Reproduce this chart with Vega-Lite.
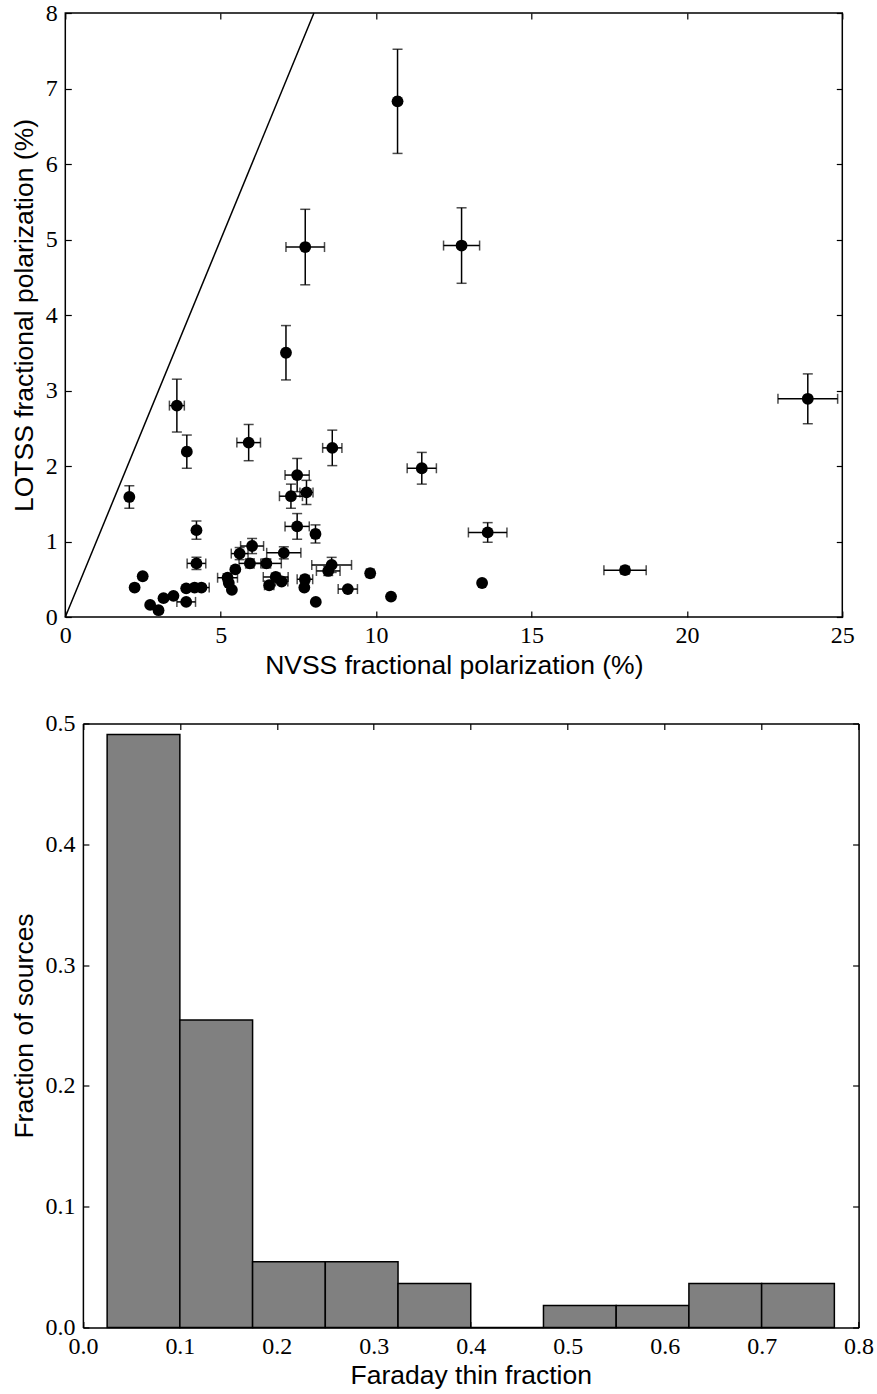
{
  "$schema": "https://vega.github.io/schema/vega-lite/v6.json",
  "padding": {"top": 0, "left": 10.3, "right": 0, "bottom": 0},
  "background": "white",
  "spacing": 31.5,
  "config": {
    "view": {"stroke": "black", "strokeWidth": 1.5},
    "axis": {
      "domain": false, "grid": false,
      "tickSize": -6, "tickColor": "black", "tickWidth": 1.2,
      "labelFont": "Liberation Serif", "labelFontSize": 24, "labelColor": "black", "labelFlush": false,
      "titleFont": "Liberation Sans", "titleFontSize": 26.5, "titleFontWeight": "normal", "titleColor": "black"
    },
    "axisX": {"labelPadding": 12.8, "titleBaseline": "alphabetic", "titleY": 56.5},
    "axisY": {"labelPadding": 14, "titleBaseline": "alphabetic"}
  },
  "vconcat": [
    {
      "width": 777, "height": 604,
      "data": {"values": [
        {"x": 10.69, "y": 6.83, "xe": 0.08, "ye": 0.69},
        {"x": 7.72, "y": 4.90, "xe": 0.62, "ye": 0.50},
        {"x": 12.75, "y": 4.92, "xe": 0.58, "ye": 0.50},
        {"x": 7.10, "y": 3.50, "xe": 0.08, "ye": 0.36},
        {"x": 3.59, "y": 2.80, "xe": 0.24, "ye": 0.35},
        {"x": 3.91, "y": 2.19, "xe": 0.08, "ye": 0.22},
        {"x": 5.90, "y": 2.31, "xe": 0.38, "ye": 0.24},
        {"x": 8.59, "y": 2.24, "xe": 0.31, "ye": 0.235},
        {"x": 23.89, "y": 2.89, "xe": 0.96, "ye": 0.33},
        {"x": 2.06, "y": 1.59, "xe": 0.05, "ye": 0.15},
        {"x": 11.47, "y": 1.97, "xe": 0.47, "ye": 0.21},
        {"x": 7.46, "y": 1.88, "xe": 0.39, "ye": 0.22},
        {"x": 7.26, "y": 1.60, "xe": 0.37, "ye": 0.16},
        {"x": 7.76, "y": 1.65, "xe": 0.21, "ye": 0.16},
        {"x": 4.22, "y": 1.15, "xe": 0.06, "ye": 0.12},
        {"x": 7.46, "y": 1.20, "xe": 0.39, "ye": 0.17},
        {"x": 8.05, "y": 1.10, "xe": 0.10, "ye": 0.12},
        {"x": 13.59, "y": 1.12, "xe": 0.62, "ye": 0.13},
        {"x": 18.01, "y": 0.62, "xe": 0.68, "ye": 0.05},
        {"x": 13.41, "y": 0.45, "xe": 0, "ye": 0},
        {"x": 10.48, "y": 0.27, "xe": 0, "ye": 0},
        {"x": 9.81, "y": 0.58, "xe": 0.12, "ye": 0},
        {"x": 9.09, "y": 0.37, "xe": 0.31, "ye": 0},
        {"x": 8.57, "y": 0.69, "xe": 0.64, "ye": 0.10},
        {"x": 8.46, "y": 0.61, "xe": 0.38, "ye": 0.06},
        {"x": 8.06, "y": 0.20, "xe": 0, "ye": 0},
        {"x": 7.71, "y": 0.50, "xe": 0.25, "ye": 0.05},
        {"x": 7.69, "y": 0.39, "xe": 0, "ye": 0},
        {"x": 6.96, "y": 0.47, "xe": 0.2, "ye": 0},
        {"x": 6.77, "y": 0.53, "xe": 0.4, "ye": 0.05},
        {"x": 6.56, "y": 0.42, "xe": 0.15, "ye": 0},
        {"x": 7.03, "y": 0.85, "xe": 0.55, "ye": 0.08},
        {"x": 6.47, "y": 0.71, "xe": 0.48, "ye": 0.06},
        {"x": 5.94, "y": 0.71, "xe": 0.35, "ye": 0.06},
        {"x": 6.01, "y": 0.94, "xe": 0.37, "ye": 0.10},
        {"x": 5.61, "y": 0.84, "xe": 0.27, "ye": 0.08},
        {"x": 5.47, "y": 0.63, "xe": 0, "ye": 0},
        {"x": 5.22, "y": 0.52, "xe": 0.32, "ye": 0.05},
        {"x": 5.26, "y": 0.45, "xe": 0, "ye": 0},
        {"x": 5.36, "y": 0.36, "xe": 0, "ye": 0},
        {"x": 4.22, "y": 0.71, "xe": 0.3, "ye": 0.08},
        {"x": 4.38, "y": 0.39, "xe": 0.25, "ye": 0},
        {"x": 4.16, "y": 0.39, "xe": 0, "ye": 0},
        {"x": 3.89, "y": 0.38, "xe": 0, "ye": 0},
        {"x": 3.89, "y": 0.20, "xe": 0.3, "ye": 0},
        {"x": 3.48, "y": 0.28, "xe": 0, "ye": 0},
        {"x": 3.16, "y": 0.25, "xe": 0, "ye": 0},
        {"x": 3.00, "y": 0.09, "xe": 0, "ye": 0},
        {"x": 2.73, "y": 0.16, "xe": 0, "ye": 0},
        {"x": 2.49, "y": 0.54, "xe": 0, "ye": 0},
        {"x": 2.23, "y": 0.39, "xe": 0, "ye": 0}
      ]},
      "layer": [
        {
          "data": {"values": [{"x": 0, "y": 0}, {"x": 8, "y": 8}]},
          "mark": {"type": "line", "color": "black", "strokeWidth": 1.5},
          "encoding": {
            "x": {"field": "x", "type": "quantitative", "scale": {"domain": [0, 25], "nice": false}, "axis": null},
            "y": {"field": "y", "type": "quantitative", "scale": {"domain": [0, 8], "nice": false}, "axis": null}
          }
        },
        {
          "transform": [{"filter": "datum.ye > 0"}],
          "mark": {"type": "errorbar", "color": "black", "ticks": {"size": 10, "thickness": 1.5}, "rule": {"strokeWidth": 1.5}},
          "encoding": {
            "x": {"field": "x", "type": "quantitative", "axis": null},
            "y": {"field": "y", "type": "quantitative", "axis": null},
            "yError": {"field": "ye"}
          }
        },
        {
          "transform": [{"filter": "datum.xe > 0"}],
          "mark": {"type": "errorbar", "color": "black", "ticks": {"size": 10, "thickness": 1.5}, "rule": {"strokeWidth": 1.5}},
          "encoding": {
            "x": {"field": "x", "type": "quantitative", "axis": null},
            "y": {"field": "y", "type": "quantitative", "axis": null},
            "xError": {"field": "xe"}
          }
        },
        {
          "mark": {"type": "point", "filled": true, "color": "black", "size": 140, "opacity": 1},
          "encoding": {
            "x": {"field": "x", "type": "quantitative", "title": "NVSS fractional polarization (%)",
                  "axis": {"values": [0, 5, 10, 15, 20, 25], "format": "d"}},
            "y": {"field": "y", "type": "quantitative", "title": "LOTSS fractional polarization (%)",
                  "axis": {"values": [0, 1, 2, 3, 4, 5, 6, 7, 8], "format": "d", "titleX": -32.4}}
          }
        },
        {
          "mark": {"type": "point", "opacity": 0},
          "encoding": {
            "x": {"field": "x", "type": "quantitative",
                  "axis": {"orient": "top", "labels": false, "title": null, "values": [0, 5, 10, 15, 20, 25]}},
            "y": {"field": "y", "type": "quantitative",
                  "axis": {"orient": "right", "labels": false, "title": null, "values": [0, 1, 2, 3, 4, 5, 6, 7, 8]}}
          }
        }
      ],
      "resolve": {"axis": {"x": "independent", "y": "independent"}}
    },
    {
      "width": 793.3, "height": 604,
      "view": {"stroke": null},
      "data": {"values": [
        {"bin_start": 0.025, "bin_end": 0.1, "frac": 0.4909},
        {"bin_start": 0.1, "bin_end": 0.175, "frac": 0.2545},
        {"bin_start": 0.175, "bin_end": 0.25, "frac": 0.0545},
        {"bin_start": 0.25, "bin_end": 0.325, "frac": 0.0545},
        {"bin_start": 0.325, "bin_end": 0.4, "frac": 0.0364},
        {"bin_start": 0.4, "bin_end": 0.475, "frac": 0},
        {"bin_start": 0.475, "bin_end": 0.55, "frac": 0.0182},
        {"bin_start": 0.55, "bin_end": 0.625, "frac": 0.0182},
        {"bin_start": 0.625, "bin_end": 0.7, "frac": 0.0364},
        {"bin_start": 0.7, "bin_end": 0.775, "frac": 0.0364}
      ]},
      "layer": [
        {
          "mark": {"type": "bar", "color": "#808080", "stroke": "black", "strokeWidth": 1.5},
          "encoding": {
            "x": {"field": "bin_start", "type": "quantitative", "title": "Faraday thin fraction",
                  "scale": {"domain": [0, 0.8], "nice": false, "range": [17.6, 793.3]},
                  "axis": {"values": [0, 0.1, 0.2, 0.3, 0.4, 0.5, 0.6, 0.7, 0.8], "format": ".1f",
                           "domain": true, "domainColor": "black", "domainWidth": 1.5}},
            "x2": {"field": "bin_end"},
            "y": {"field": "frac", "type": "quantitative", "title": "Fraction of sources",
                  "scale": {"domain": [0, 0.5], "nice": false},
                  "axis": {"values": [0, 0.1, 0.2, 0.3, 0.4, 0.5], "format": ".1f", "titleX": -50, "offset": -17.6,
                           "domain": true, "domainColor": "black", "domainWidth": 1.5}},
            "y2": {"datum": 0}
          }
        },
        {
          "mark": {"type": "point", "opacity": 0},
          "encoding": {
            "x": {"field": "bin_start", "type": "quantitative",
                  "axis": {"orient": "top", "labels": false, "title": null, "values": [0, 0.1, 0.2, 0.3, 0.4, 0.5, 0.6, 0.7, 0.8],
                           "domain": true, "domainColor": "black", "domainWidth": 1.5}},
            "y": {"field": "frac", "type": "quantitative",
                  "axis": {"orient": "right", "labels": false, "title": null, "values": [0, 0.1, 0.2, 0.3, 0.4, 0.5],
                           "domain": true, "domainColor": "black", "domainWidth": 1.5}}
          }
        }
      ],
      "resolve": {"axis": {"x": "independent", "y": "independent"}}
    }
  ]
}
